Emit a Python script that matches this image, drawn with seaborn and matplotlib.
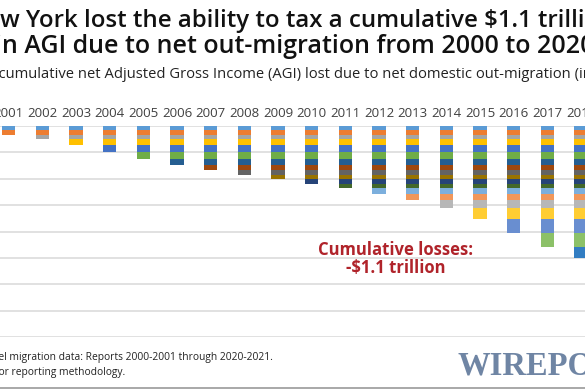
import pandas as pd
import numpy as np
import matplotlib
matplotlib.use("Agg")
import matplotlib.pyplot as plt
import seaborn as sns

# annual net AGI lost per year (billions)
years = [str(y) for y in range(2000, 2019)]
annual_loss = [3.0, 3.6, 3.3, 4.6, 5.0, 5.6, 4.6, 3.8, 3.3, 3.3,
               3.6, 3.3, 4.8, 4.6, 5.6, 8.8, 10.4, 10.2, 8.8]
segment_colors = ['#5B9BD5', '#ED7D31', '#A5A5A5', '#FFC000', '#4472C4', '#70AD47',
                  '#255E91', '#9E480E', '#636363', '#997300', '#264478', '#43682B',
                  '#7CAFDD', '#F1975A', '#B7B7B7', '#FFCD33', '#698ED0', '#8CC168',
                  '#327DC2']
grid_values = [0, -20, -40, -60, -80, -100, -120, -140, -160]

sns.set_theme(style="white")
plt.rcParams['font.family'] = ['Open Sans', 'DejaVu Sans']

fig = plt.figure(figsize=(5.85, 3.9), dpi=100)
ax = fig.add_axes([0, 1 - 337 / 390, 1, (337 - 126) / 390])

cum = np.cumsum(annual_loss)
# draw deepest layer first, then shallower layers on top -> stacked look
for k in range(len(years) - 1, -1, -1):
    df = pd.DataFrame({'year': years, 'value': [-cum[k] if j >= k else np.nan for j in range(len(years))]})
    sns.barplot(data=df, x='year', y='value', order=years, color=segment_colors[k],
                width=0.4, saturation=1, linewidth=0, ax=ax, zorder=3)

ax.set_xlim(0.742, 18.12)
ax.set_ylim(-160, 0)
ax.set_yticks(grid_values)
ax.set_yticklabels([])
ax.yaxis.grid(True, color='#d9d9d9', linewidth=1.1)
ax.set_axisbelow(True)
ax.xaxis.tick_top()
ax.tick_params(axis='x', length=0, labelsize=9.5, labelcolor='#404040', pad=4)
ax.tick_params(axis='y', length=0)
ax.set_xlabel('')
ax.set_ylabel('')
for s in ax.spines.values():
    s.set_visible(False)

renderer = fig.canvas.get_renderer()


def cropped_text(text, hidden, left_px, y_px, **kw):
    # place text so that its `hidden` prefix runs off the left edge
    probe = fig.text(0, 0, hidden, **kw)
    w = probe.get_window_extent(renderer).width
    probe.remove()
    fig.text((left_px - w) / 585, 1 - y_px / 390, text, ha='left', va='baseline', **kw)


title_kw = dict(fontweight='semibold', color='#111111')
cropped_text('New York lost the ability to tax a cumulative $1.1 trillion', 'Ne', 0.5, 27,
             fontsize=17.3, **title_kw)
cropped_text('in AGI due to net out-migration from 2000 to 2020', 'i', 2, 53,
             fontsize=18.0, **title_kw)
cropped_text('Annual cumulative net Adjusted Gross Income (AGI) lost due to net domestic out-migration (in billions)',
             'Annual ', -2, 78, fontsize=10.6, color='#222222')

fig.text(396 / 585, 1 - 259 / 390, 'Cumulative losses:\n-$1.1 trillion', ha='center', va='center',
         fontsize=12, fontweight='bold', color='#B0232A', linespacing=1.05)

cropped_text('Source: IRS SOI state-to-state level migration data: Reports 2000-2001 through 2020-2021.',
             'Source: IRS SOI state-to-state lev', -2, 360, fontsize=7.4, color='#222222')
cropped_text('See IRS SOI documentation for reporting methodology.',
             'See IRS SOI documentation f', -2, 375, fontsize=7.4, color='#222222')
fig.text(457 / 585, 1 - 366 / 390, 'WIREPOINTS', ha='left', va='center', fontsize=23.5,
         fontweight='bold', family='Liberation Serif', color='#6F85A4')
fig.add_artist(plt.Line2D([0, 1], [1 - 388 / 390] * 2, color='#9a9a9a', linewidth=1.2))

fig.savefig('out.png', dpi=100)
